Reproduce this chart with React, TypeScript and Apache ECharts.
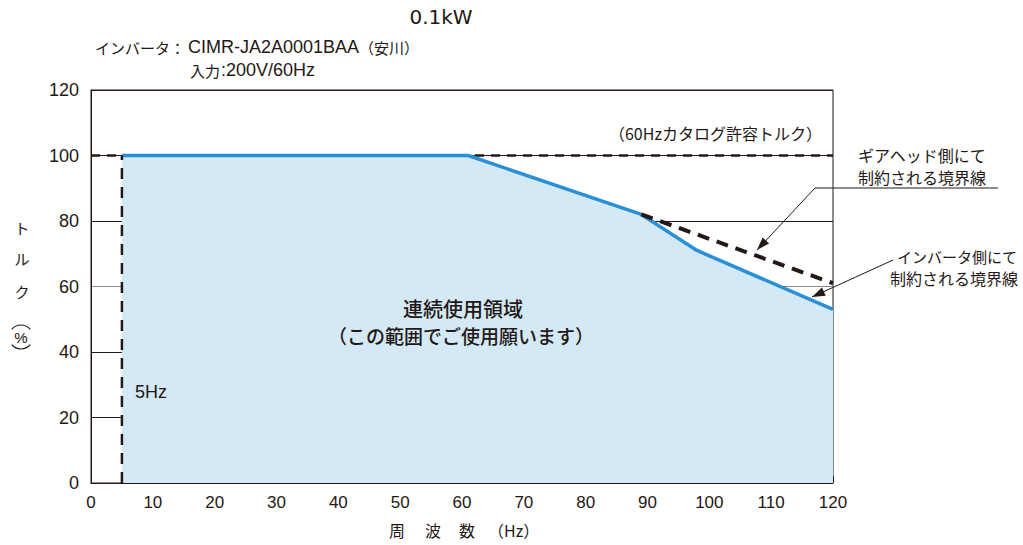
import React, { useEffect, useRef } from "react";
import * as echarts from "echarts";

const xTicks = [0, 10, 20, 30, 40, 50, 60, 70, 80, 90, 100, 110, 120];
const yTicks = [0, 20, 40, 60, 80, 100, 120];
const inverterHz = [5, 61, 89, 98, 120];
const inverterTorque = [100, 100, 82, 71, 53];
const catalogHz = [0, 120];
const catalogTorque = [100, 100];
const gearHz = [89, 120];
const gearTorque = [82, 61];
const minHz = [5, 5];
const minTorque = [0, 100];

const FONT = "'Liberation Sans', 'Noto Sans CJK JP', sans-serif";
const JP = "'Noto Sans CJK JP', sans-serif";
const INK = "#231815";

function arrowHead(tipX: number, tipY: number, fromX: number, fromY: number, len = 13, half = 4.5) {
  const dx = tipX - fromX, dy = tipY - fromY;
  const d = Math.hypot(dx, dy);
  const ux = dx / d, uy = dy / d;
  const bx = tipX - ux * len, by = tipY - uy * len;
  return [[tipX, tipY], [bx - uy * half, by + ux * half], [bx + uy * half, by - ux * half]];
}

function txt(x: number, y: number, text: string, font: string, align = "left") {
  return { type: "text", z: 100, x, y, style: { text, font, fill: INK, align, verticalAlign: "middle" } };
}

export default function App() {
  const ref = useRef<HTMLDivElement>(null);
  useEffect(() => {
    const chart = echarts.init(ref.current!, null, { renderer: "svg" });
    const zip = (a: number[], b: number[]) => a.map((v, i) => [v, b[i]]);
    const gearFrom = [815, 188], gearTip = [757, 250];
    const invFrom = [893, 260], invTip = [812, 297];
    chart.setOption({
      animation: false,
      grid: { left: 91, right: 190, top: 90, bottom: 62, show: true, borderColor: INK, borderWidth: 1, backgroundColor: "transparent" },
      xAxis: {
        type: "value", min: 0, max: 120, interval: 10,
        axisLine: { lineStyle: { color: INK, width: 1 } },
        axisTick: { inside: true, length: 7, lineStyle: { color: INK } },
        axisLabel: { color: INK, fontSize: 17, fontFamily: FONT, margin: 11 },
        splitLine: { show: false },
      },
      yAxis: {
        type: "value", min: 0, max: 120, interval: 20,
        axisLine: { show: true, lineStyle: { color: INK, width: 1 } },
        axisTick: { show: false },
        axisLabel: { color: INK, fontSize: 18, fontFamily: FONT, margin: 12 },
        splitLine: { show: true, lineStyle: { color: [INK, INK, INK, "#8a8a8a", INK, INK, INK], width: 1 } },
      },
      series: [
        {
          type: "line", data: zip(inverterHz, inverterTorque), symbol: "none", z: 3,
          lineStyle: { color: "#2a90d6", width: 3.5 },
          areaStyle: { color: "#d4e9f6", opacity: 1 },
        },
        {
          type: "line", data: zip(catalogHz, catalogTorque), symbol: "none", z: 2,
          lineStyle: { color: INK, width: 2.5, type: [9, 7] },
        },
        {
          type: "line", data: zip(gearHz, gearTorque), symbol: "none", z: 4,
          lineStyle: { color: INK, width: 4, type: [12, 8] },
        },
        {
          type: "line", data: zip(minHz, minTorque), symbol: "none", z: 4,
          lineStyle: { color: INK, width: 2.5, type: [11, 8] },
        },
      ],
      graphic: {
        elements: [
          txt(441, 17, "0.1kW", `20px 'DejaVu Sans', sans-serif`, "center"),
          txt(95, 47, "インバータ：", `15px ${JP}`),
          txt(188, 47, "CIMR-JA2A0001BAA", `18px ${FONT}`),
          txt(359, 47, "（安川）", `15px ${JP}`),
          txt(190, 70, "入力", `15px ${JP}`),
          txt(221, 70, ":200V/60Hz", `18px ${FONT}`),
          txt(822, 133, "（60Hzカタログ許容トルク）", `16px ${JP}`, "right"),
          txt(463, 308, "連続使用領域", `500 20px ${JP}`, "center"),
          txt(461, 335, "（この範囲でご使用願います）", `500 19px ${JP}`, "center"),
          txt(135, 392, "5Hz", `18px ${FONT}`),
          txt(858, 155, "ギアヘッド側にて", `16px ${JP}`),
          txt(858, 177, "制約される境界線", `16px ${JP}`),
          { type: "line", z: 100, shape: { x1: 815, y1: 188, x2: 998, y2: 188 }, style: { stroke: INK, lineWidth: 1 } },
          { type: "line", z: 100, shape: { x1: gearFrom[0], y1: gearFrom[1], x2: gearTip[0], y2: gearTip[1] }, style: { stroke: INK, lineWidth: 1 } },
          { type: "polygon", z: 100, shape: { points: arrowHead(gearTip[0], gearTip[1], gearFrom[0], gearFrom[1]) }, style: { fill: INK } },
          txt(897, 256, "インバータ側にて", `15px ${JP}`),
          txt(890, 278, "制約される境界線", `16px ${JP}`),
          { type: "line", z: 100, shape: { x1: invFrom[0], y1: invFrom[1], x2: invTip[0], y2: invTip[1] }, style: { stroke: INK, lineWidth: 1 } },
          { type: "polygon", z: 100, shape: { points: arrowHead(invTip[0], invTip[1], invFrom[0], invFrom[1]) }, style: { fill: INK } },
          txt(22, 227, "ト", `15px ${JP}`, "center"),
          txt(22, 258, "ル", `15px ${JP}`, "center"),
          txt(22, 291, "ク", `15px ${JP}`, "center"),
          txt(21, 337, "%", `15px ${FONT}`, "center"),
          { type: "arc", z: 100, shape: { cx: 21, cy: 337, r: 12, startAngle: Math.PI * 1.22, endAngle: Math.PI * 1.78 }, style: { stroke: INK, lineWidth: 1.2, fill: "none" } },
          { type: "arc", z: 100, shape: { cx: 21, cy: 337, r: 12, startAngle: Math.PI * 0.22, endAngle: Math.PI * 0.78 }, style: { stroke: INK, lineWidth: 1.2, fill: "none" } },
          txt(397, 530, "周", `16px ${JP}`, "center"),
          txt(433, 530, "波", `16px ${JP}`, "center"),
          txt(467, 530, "数", `16px ${JP}`, "center"),
          txt(488, 530, "（Hz）", `16px ${JP}`),
        ],
      },
    });
    return () => chart.dispose();
  }, []);
  return <div ref={ref} style={{ position: "fixed", left: 0, top: 0, width: 1023, height: 545, background: "#fff" }} />;
}
